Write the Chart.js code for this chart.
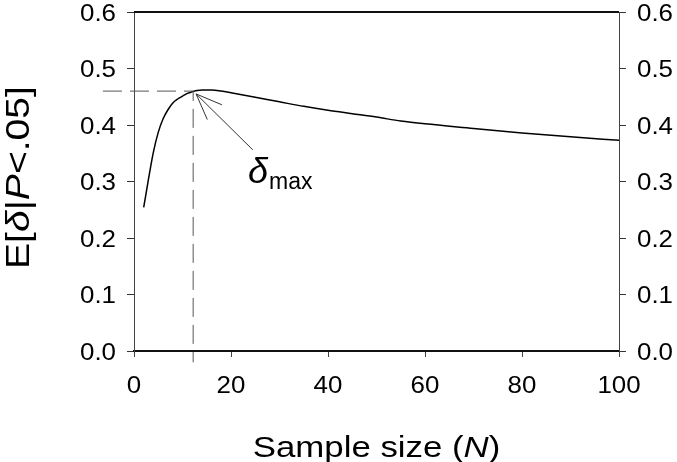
<!DOCTYPE html>
<html>
<head>
<meta charset="utf-8">
<script src="https://cdn.jsdelivr.net/npm/chart.js@4.4.1/dist/chart.umd.min.js"></script>
<style>
body { margin: 0; background: #fff; }
</style>
</head>
<body>
<canvas id="deltaChart" width="677" height="462"></canvas>
<script>
// sample size N and expected effect given significance
const sampleSize = [2,3,4,5,6,7,8,9,10,11,12,13,14,16,18,20,25,30,35,40,45,50,55,60,70,80,90,100];
const expectedDelta = [0.254,0.305,0.352,0.387,0.411,0.427,0.439,0.446,0.451,0.456,0.459,0.461,0.462,0.462,0.460,0.457,0.449,0.441,0.433,0.426,0.420,0.414,0.407,0.402,0.394,0.386,0.379,0.373];

// dashed guide to the maximum
const peakN = 12.2;
const peakDelta = 0.46;
const guideX = [-6.4, peakN, peakN];
const guideY = [peakDelta, peakDelta, -0.02];

// arrow (tip, tail) and label position, in data units
const arrowTip = [12.8, 0.455];
const arrowTail = [24.5, 0.356];
const labelPos = [23.5, 0.298];

const xTicks = [0,20,40,60,80,100];
const yTicks = [0,0.1,0.2,0.3,0.4,0.5,0.6];

const fontName = "'Liberation Sans', Arial, sans-serif";

let curvePoints = [];
for(i=0;i<sampleSize.length;i++){
	curvePoints.push({x: sampleSize[i], y: expectedDelta[i]});
}
let guidePoints = [];
for(i=0;i<guideX.length;i++){
	guidePoints.push({x: guideX[i], y: guideY[i]});
}

// draws text pieces (text, style) stretched horizontally
function drawPieces(ctx, pieces, size, sx, align){
	let total = 0;
	for(const p of pieces){
		ctx.font = p[1] + " " + size + "px " + fontName;
		total += ctx.measureText(p[0]).width;
	}
	let x = 0;
	if(align == "center") x = -total/2;
	else if(align == "right") x = -total;
	ctx.scale(sx, 1);
	for(const p of pieces){
		ctx.font = p[1] + " " + size + "px " + fontName;
		ctx.fillText(p[0], x, 0);
		x += ctx.measureText(p[0]).width;
	}
}

const textPlugin = {
	id: "textPlugin",
	afterDraw(chart){
		const ctx = chart.ctx;
		const xs = chart.scales.x, ys = chart.scales.y, ys2 = chart.scales.y2;
		const area = chart.chartArea;
		ctx.save();
		ctx.fillStyle = "#000";
		ctx.textBaseline = "alphabetic";

		// top frame line
		ctx.strokeStyle = "#111";
		ctx.lineWidth = 2;
		ctx.beginPath();
		ctx.moveTo(area.left, area.top);
		ctx.lineTo(area.right, area.top);
		ctx.stroke();

		// tick labels
		for(const v of yTicks){
			let y = ys.getPixelForValue(v);
			ctx.save();
			ctx.translate(area.left - 18, y + 8.5);
			drawPieces(ctx, [[v.toFixed(1), "normal"]], 24, 1.08, "right");
			ctx.restore();
			ctx.save();
			ctx.translate(area.right + 18, ys2.getPixelForValue(v) + 8.5);
			drawPieces(ctx, [[v.toFixed(1), "normal"]], 24, 1.08, "left");
			ctx.restore();
		}
		for(const v of xTicks){
			ctx.save();
			ctx.translate(xs.getPixelForValue(v), area.bottom + 42);
			drawPieces(ctx, [[String(v), "normal"]], 24, 1.08, "center");
			ctx.restore();
		}

		// axis titles
		ctx.save();
		ctx.translate((area.left + area.right)/2, 457);
		drawPieces(ctx, [["Sample size (", "normal"], ["N", "italic"], [")", "normal"]], 29, 1.2, "center");
		ctx.restore();

		ctx.save();
		ctx.translate(29, (area.top + area.bottom)/2 - 4);
		ctx.rotate(-Math.PI/2);
		drawPieces(ctx, [["E[", "normal"], ["\u03b4", "italic"], ["|", "normal"], ["P", "italic"], ["<.05]", "normal"]], 34, 1.15, "center");
		ctx.restore();

		// arrow to the maximum
		let tx = xs.getPixelForValue(arrowTip[0]), ty = ys.getPixelForValue(arrowTip[1]);
		let ex = xs.getPixelForValue(arrowTail[0]), ey = ys.getPixelForValue(arrowTail[1]);
		let ang = Math.atan2(ey - ty, ex - tx);
		ctx.strokeStyle = "#333";
		ctx.lineWidth = 1;
		ctx.beginPath();
		ctx.moveTo(ex, ey);
		ctx.lineTo(tx, ty);
		ctx.moveTo(tx + 28*Math.cos(ang - 0.38), ty + 28*Math.sin(ang - 0.38));
		ctx.lineTo(tx, ty);
		ctx.lineTo(tx + 28*Math.cos(ang + 0.38), ty + 28*Math.sin(ang + 0.38));
		ctx.stroke();

		// delta max label
		let lx = xs.getPixelForValue(labelPos[0]), ly = ys.getPixelForValue(labelPos[1]);
		ctx.font = "italic 36px " + fontName;
		ctx.fillText("\u03b4", lx, ly);
		let dw = ctx.measureText("\u03b4").width;
		ctx.font = "23px " + fontName;
		ctx.fillText("max", lx + dw + 1, ly + 6);

		ctx.restore();
	}
};

let ctx = document.getElementById("deltaChart").getContext("2d");
let deltaGraph = new Chart(ctx, {
	type: "line",
	data: {
		datasets: [{
			data: guidePoints,
			borderColor: "#555",
			borderWidth: 1,
			borderDash: [19, 8],
			pointRadius: 0,
			fill: false,
			clip: false
		}, {
			data: curvePoints,
			borderColor: "#000",
			borderWidth: 1.5,
			pointRadius: 0,
			fill: false,
			cubicInterpolationMode: "monotone"
		}]
	},
	options: {
		responsive: false,
		animation: false,
		devicePixelRatio: 1,
		layout: { padding: { top: 12, left: 0, right: 0, bottom: 0 } },
		plugins: { legend: { display: false }, tooltip: { enabled: false } },
		scales: {
			x: {
				type: "linear",
				min: 0, max: 100,
				ticks: { stepSize: 20, display: false },
				grid: { drawOnChartArea: false, drawTicks: true, tickLength: 6, tickColor: "#444" },
				border: { display: true, color: "#111", width: 2 },
				afterFit: function(s){ s.height = 111; }
			},
			y: {
				position: "left",
				min: 0, max: 0.6,
				ticks: { stepSize: 0.1, display: false },
				grid: { drawOnChartArea: false, drawTicks: true, tickLength: 7, tickColor: "#333" },
				border: { display: true, color: "#444", width: 1 },
				afterFit: function(s){ s.width = 134; }
			},
			y2: {
				position: "right",
				min: 0, max: 0.6,
				ticks: { stepSize: 0.1, display: false },
				grid: { drawOnChartArea: false, drawTicks: true, tickLength: 7, tickColor: "#333" },
				border: { display: true, color: "#444", width: 1 },
				afterFit: function(s){ s.width = 58; }
			}
		}
	},
	plugins: [textPlugin]
});
</script>
</body>
</html>
